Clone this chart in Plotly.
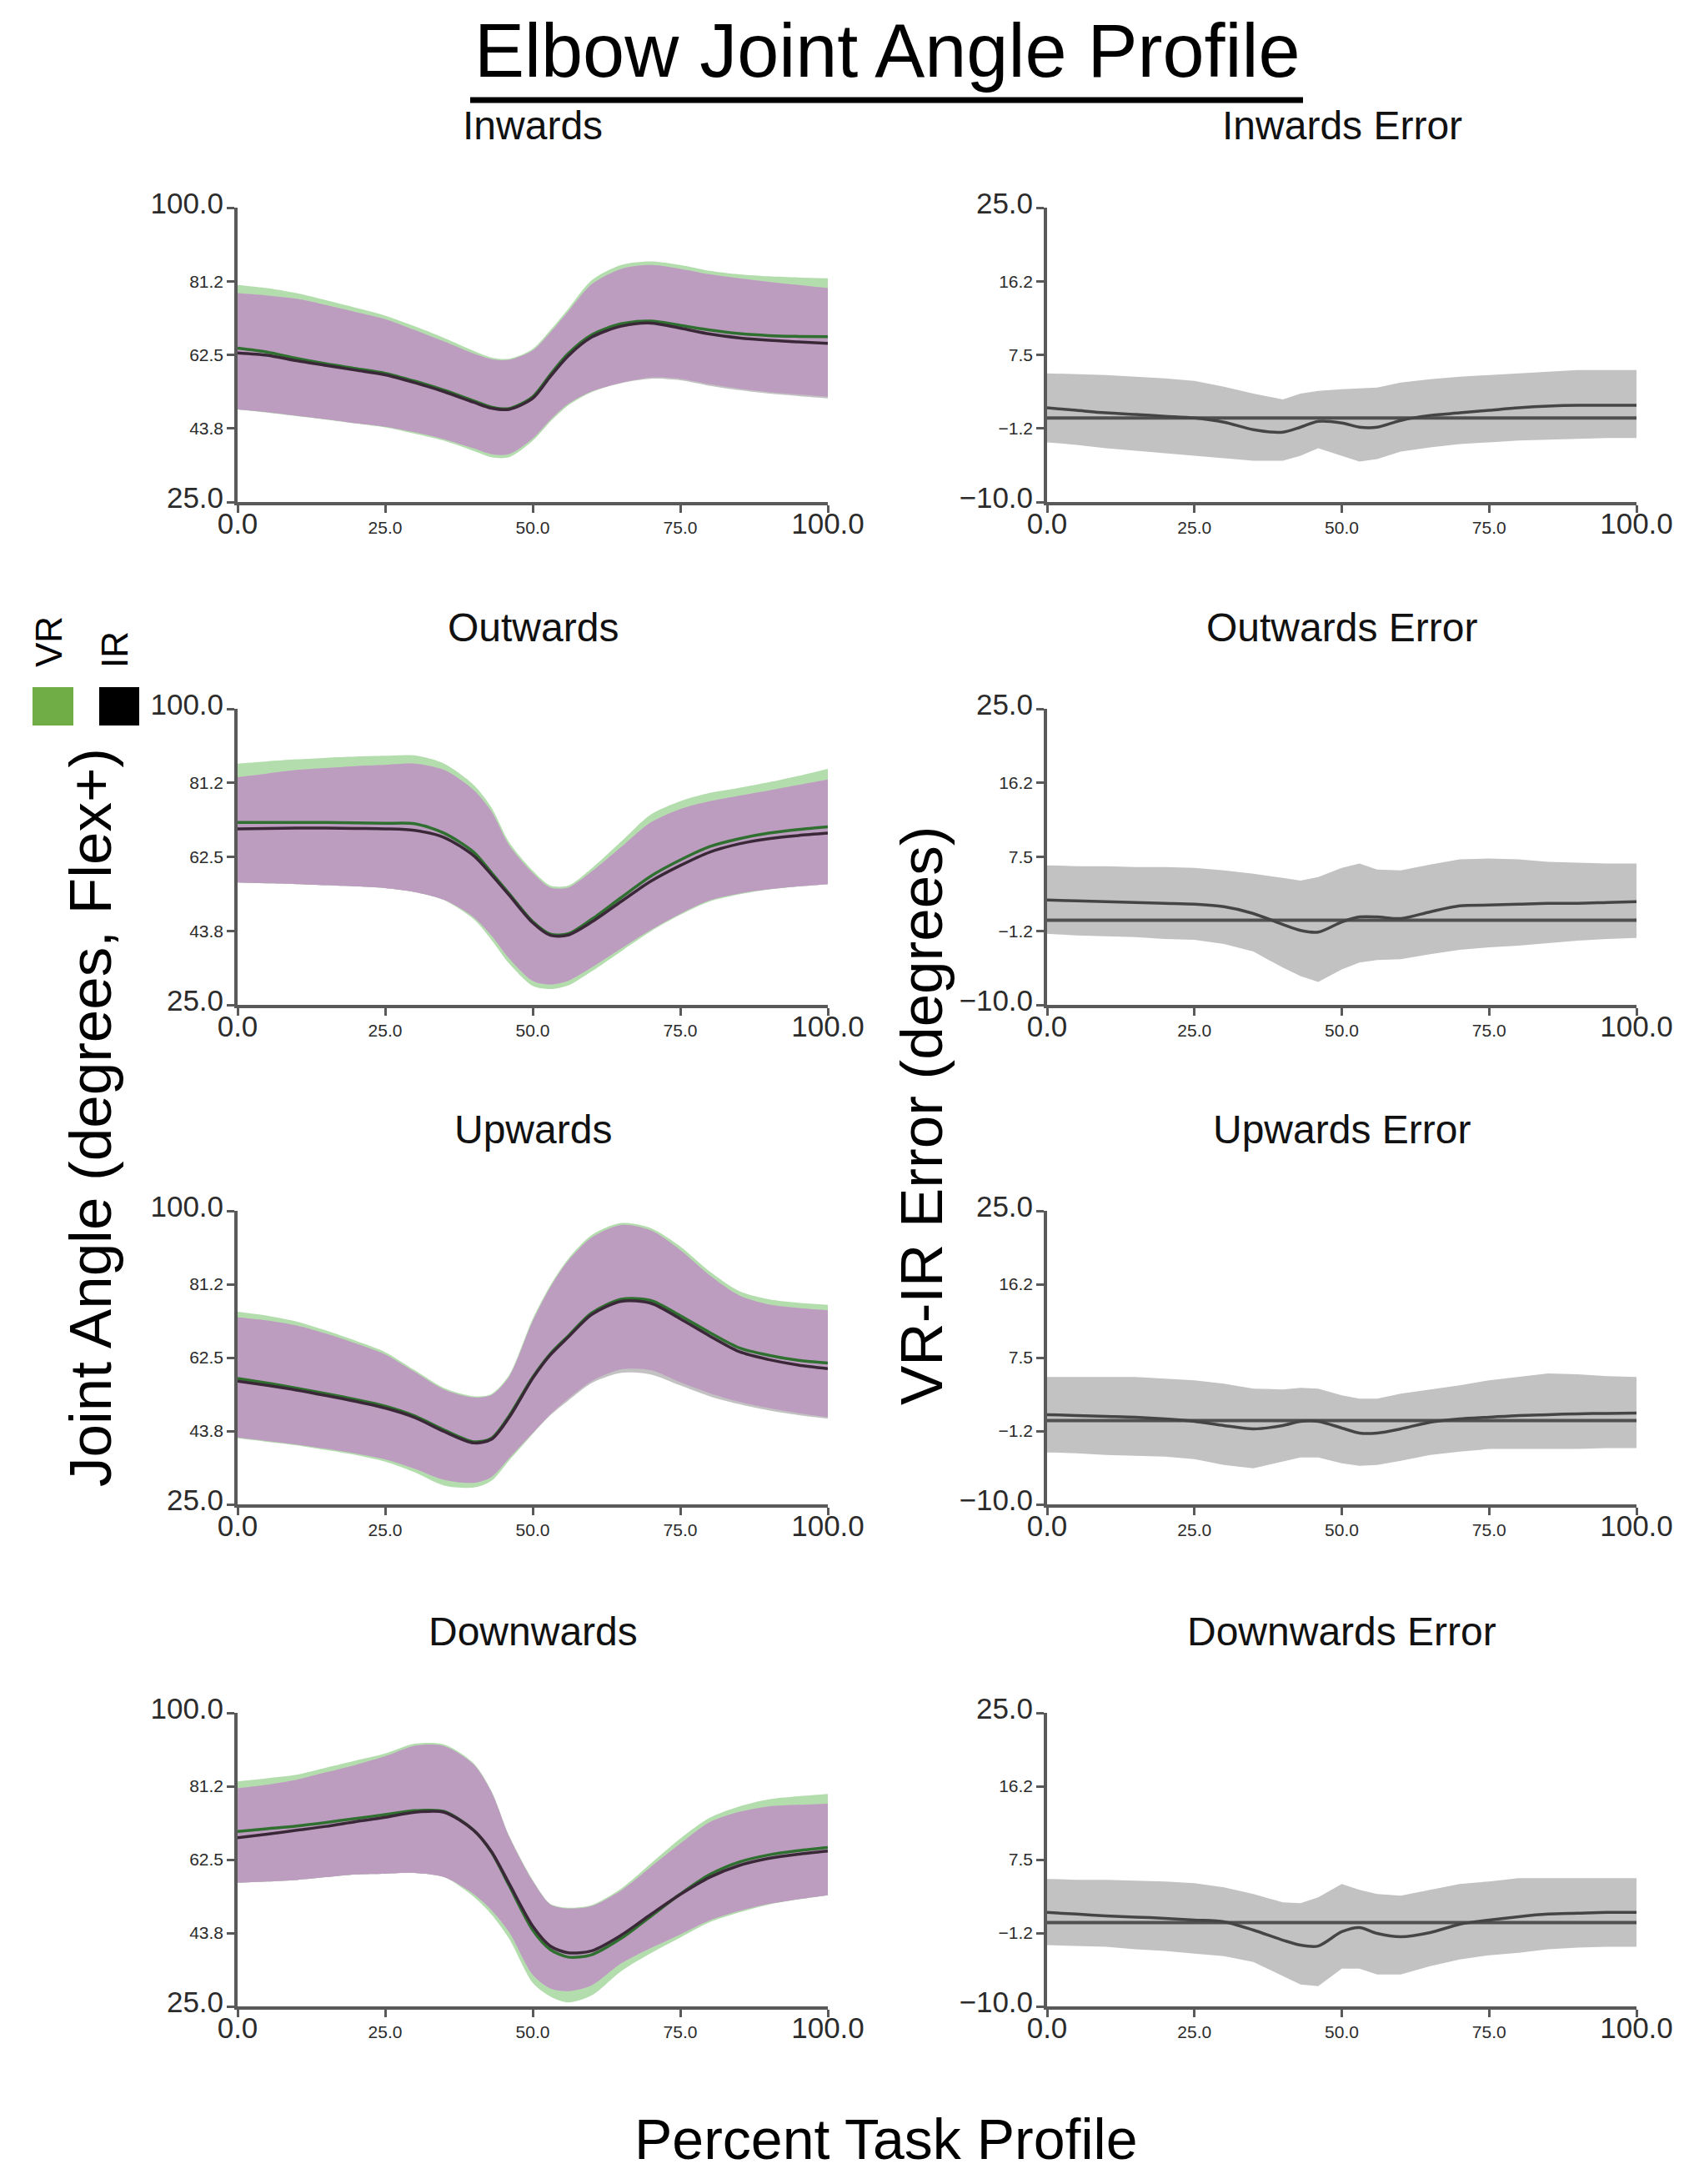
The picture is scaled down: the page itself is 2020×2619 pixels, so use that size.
import numpy as np
import plotly.graph_objects as go
from plotly.subplots import make_subplots

# percent of task (common grid for all series)
X = [0, 5, 10, 15, 20, 25, 30, 35, 40, 43, 46, 50, 53, 56, 60, 65, 70, 75, 80, 85, 90, 95, 100]

DIRECTIONS = ["Inwards", "Outwards", "Upwards", "Downwards"]

# joint angle (degrees) - VR / IR mean and band edges
in_vr_mean = [64.2, 63.2, 61.6, 60.2, 59.0, 57.8, 55.8, 53.5, 50.8, 49.2, 48.8, 51.8, 57.5, 62.8, 67.6, 70.4, 71.1, 70.0, 68.8, 67.9, 67.4, 67.2, 67.1]
in_ir_mean = [63.0, 62.4, 61.0, 59.8, 58.6, 57.4, 55.4, 53.1, 50.4, 48.9, 48.6, 51.4, 57.0, 62.2, 67.0, 69.8, 70.6, 69.3, 67.8, 66.8, 66.2, 65.8, 65.4]
in_vr_hi = [80.3, 79.5, 78.2, 76.4, 74.5, 72.5, 69.8, 66.8, 63.5, 61.8, 61.5, 64.0, 68.8, 74.2, 81.5, 85.4, 86.3, 85.4, 83.9, 83.0, 82.5, 82.2, 82.0]
in_ir_hi = [78.2, 77.6, 76.8, 75.2, 73.4, 71.6, 68.8, 65.9, 62.8, 61.4, 61.2, 63.6, 68.2, 73.5, 80.5, 84.4, 85.4, 84.4, 83.0, 82.0, 81.1, 80.3, 79.5]
in_vr_lo = [48.6, 47.8, 46.9, 46.0, 45.0, 44.0, 42.4, 40.6, 38.0, 36.4, 36.4, 40.6, 45.5, 49.6, 53.0, 55.4, 56.7, 56.4, 55.0, 53.9, 53.0, 52.4, 51.8]
in_ir_lo = [48.6, 47.9, 47.0, 46.1, 45.1, 44.2, 42.8, 41.0, 38.7, 37.2, 37.2, 41.2, 46.0, 50.0, 53.2, 55.3, 56.4, 56.0, 54.6, 53.5, 52.6, 52.0, 51.4]

out_vr_mean = [71.2, 71.2, 71.2, 71.2, 71.1, 71.0, 70.9, 68.5, 63.7, 58.5, 53.2, 46.1, 42.9, 43.0, 46.7, 52.2, 57.6, 61.7, 65.1, 67.1, 68.5, 69.4, 70.1]
out_ir_mean = [69.6, 69.7, 69.8, 69.8, 69.7, 69.6, 69.2, 67.4, 62.8, 58.0, 52.8, 45.8, 42.6, 42.7, 46.0, 51.2, 56.3, 60.3, 63.7, 65.8, 67.1, 67.9, 68.5]
out_vr_hi = [86.1, 86.7, 87.2, 87.6, 87.9, 88.1, 88.2, 86.1, 80.7, 75.0, 66.2, 59.0, 55.2, 55.2, 59.6, 66.4, 73.2, 76.6, 78.7, 80.0, 81.4, 83.0, 84.8]
out_ir_hi = [82.7, 83.6, 84.5, 85.0, 85.5, 85.8, 86.1, 84.5, 79.4, 74.0, 65.4, 58.4, 54.7, 54.7, 58.8, 65.0, 71.2, 74.6, 76.6, 78.0, 79.3, 80.7, 82.1]
out_vr_lo = [56.0, 55.8, 55.6, 55.3, 55.0, 54.6, 53.6, 51.5, 46.7, 41.5, 35.5, 29.8, 29.0, 29.9, 33.5, 38.6, 43.6, 47.8, 51.2, 53.0, 54.2, 55.0, 55.6]
out_ir_lo = [56.0, 55.8, 55.6, 55.3, 55.0, 54.6, 53.6, 51.6, 47.2, 42.6, 36.8, 31.1, 30.2, 31.1, 34.5, 39.3, 44.0, 48.1, 51.5, 53.2, 54.3, 55.0, 55.6]

up_vr_mean = [57.2, 56.0, 54.7, 53.3, 51.8, 50.1, 47.6, 44.0, 41.0, 41.9, 47.6, 57.5, 63.5, 68.0, 73.9, 77.4, 77.1, 73.2, 68.9, 65.0, 63.1, 61.8, 61.1]
up_ir_mean = [56.5, 55.4, 54.2, 52.8, 51.3, 49.6, 47.2, 43.6, 40.7, 41.6, 47.2, 57.2, 63.2, 67.7, 73.5, 76.9, 76.4, 72.4, 68.0, 64.0, 62.0, 60.6, 59.7]
up_vr_hi = [74.2, 73.2, 71.7, 69.4, 66.8, 63.9, 59.3, 54.7, 52.6, 53.2, 58.0, 72.4, 81.0, 87.7, 93.8, 96.9, 95.6, 90.9, 84.5, 79.5, 77.4, 76.5, 76.0]
up_ir_hi = [72.8, 72.0, 70.7, 68.6, 66.1, 63.3, 58.8, 54.3, 52.3, 52.9, 57.6, 71.8, 80.5, 87.2, 93.2, 96.4, 95.0, 90.0, 83.5, 78.4, 76.1, 75.2, 74.6]
up_vr_lo = [41.9, 41.0, 40.1, 38.9, 37.6, 35.9, 33.2, 29.8, 29.3, 31.0, 36.2, 43.0, 48.0, 52.0, 56.5, 59.5, 59.3, 56.2, 53.4, 51.2, 49.6, 48.3, 47.3]
up_ir_lo = [42.1, 41.2, 40.3, 39.2, 38.0, 36.5, 34.1, 31.3, 30.5, 32.0, 36.8, 43.2, 47.8, 51.5, 56.0, 58.6, 58.2, 55.4, 52.6, 50.6, 49.0, 47.8, 46.9]

down_vr_mean = [69.7, 70.4, 71.1, 72.0, 73.0, 74.0, 75.0, 74.8, 70.0, 64.4, 55.9, 44.5, 39.5, 37.6, 38.2, 42.4, 48.0, 53.7, 58.7, 61.9, 63.7, 64.8, 65.6]
down_ir_mean = [68.1, 69.0, 70.0, 71.0, 72.2, 73.3, 74.6, 74.6, 70.0, 64.6, 56.4, 45.5, 40.4, 38.7, 39.2, 43.2, 48.5, 53.6, 58.0, 61.0, 62.8, 63.9, 64.7]
down_vr_hi = [82.5, 83.3, 84.2, 86.0, 87.8, 89.6, 92.1, 91.9, 87.1, 80.0, 68.6, 57.3, 51.2, 50.2, 50.9, 55.1, 61.5, 67.9, 73.2, 76.1, 77.9, 78.7, 79.3]
down_ir_hi = [80.7, 81.6, 82.9, 84.8, 86.7, 88.9, 91.6, 91.5, 86.8, 79.8, 68.4, 57.0, 51.0, 50.0, 50.6, 54.6, 60.6, 66.6, 72.1, 74.7, 76.1, 76.5, 76.8]
down_vr_lo = [56.6, 56.9, 57.3, 58.0, 58.7, 58.9, 59.1, 58.0, 53.0, 48.5, 42.3, 31.0, 27.5, 26.0, 27.8, 34.0, 38.6, 42.6, 46.5, 49.0, 51.0, 52.3, 53.4]
down_ir_lo = [56.6, 56.9, 57.3, 58.0, 58.7, 58.9, 59.1, 58.0, 53.7, 49.6, 44.0, 33.1, 29.6, 28.9, 30.4, 36.0, 39.9, 43.4, 47.0, 49.4, 51.2, 52.4, 53.4]

# VR-IR error (degrees)
in_err_mean = [1.2, 0.9, 0.6, 0.4, 0.2, 0.0, -0.5, -1.4, -1.7, -1.1, -0.4, -0.6, -1.1, -1.1, -0.3, 0.3, 0.6, 0.9, 1.2, 1.4, 1.5, 1.5, 1.5]
in_err_hi = [5.3, 5.2, 5.1, 4.9, 4.7, 4.4, 3.7, 2.9, 2.2, 2.9, 3.2, 3.4, 3.5, 3.6, 4.2, 4.6, 4.9, 5.1, 5.3, 5.5, 5.7, 5.7, 5.7]
in_err_lo = [-2.9, -3.2, -3.6, -3.9, -4.2, -4.5, -4.8, -5.1, -5.1, -4.5, -3.6, -4.5, -5.2, -4.9, -4.0, -3.5, -3.1, -2.9, -2.7, -2.6, -2.5, -2.4, -2.4]

out_err_mean = [2.4, 2.3, 2.2, 2.1, 2.0, 1.9, 1.6, 0.8, -0.5, -1.2, -1.4, -0.2, 0.4, 0.4, 0.2, 1.0, 1.7, 1.8, 1.9, 2.0, 2.0, 2.1, 2.2]
out_err_hi = [6.5, 6.4, 6.4, 6.3, 6.3, 6.2, 5.9, 5.5, 5.0, 4.7, 5.1, 6.2, 6.7, 6.0, 5.9, 6.6, 7.2, 7.3, 7.2, 6.9, 6.8, 6.7, 6.7]
out_err_lo = [-1.6, -1.8, -1.9, -2.0, -2.2, -2.3, -2.8, -3.7, -5.6, -6.6, -7.3, -5.8, -5.0, -4.7, -4.6, -4.0, -3.5, -3.2, -3.0, -2.7, -2.4, -2.2, -2.1]

up_err_mean = [0.7, 0.6, 0.5, 0.4, 0.2, -0.1, -0.6, -1.0, -0.6, -0.1, -0.1, -0.9, -1.5, -1.5, -1.0, -0.2, 0.2, 0.4, 0.6, 0.7, 0.8, 0.85, 0.9]
up_err_hi = [5.2, 5.2, 5.2, 5.2, 5.0, 4.8, 4.4, 3.8, 3.7, 3.9, 3.8, 3.0, 2.6, 2.6, 3.2, 3.7, 4.2, 4.8, 5.2, 5.6, 5.5, 5.3, 5.2]
up_err_lo = [-3.8, -3.9, -4.1, -4.2, -4.3, -4.6, -5.3, -5.7, -4.9, -4.4, -4.4, -5.1, -5.4, -5.3, -4.8, -4.1, -3.7, -3.4, -3.4, -3.4, -3.4, -3.3, -3.3]

down_err_mean = [1.2, 1.0, 0.8, 0.65, 0.5, 0.3, 0.1, -0.9, -2.1, -2.7, -2.8, -1.1, -0.6, -1.3, -1.7, -1.2, -0.2, 0.3, 0.7, 1.0, 1.1, 1.2, 1.2]
down_err_hi = [5.2, 5.1, 5.1, 5.0, 4.9, 4.7, 4.2, 3.4, 2.4, 2.3, 3.0, 4.6, 3.9, 3.4, 3.2, 3.9, 4.6, 4.9, 5.3, 5.3, 5.3, 5.3, 5.3]
down_err_lo = [-2.7, -2.8, -2.9, -3.2, -3.4, -3.7, -4.0, -4.7, -6.4, -7.4, -7.6, -5.5, -5.5, -6.2, -6.2, -5.2, -4.4, -3.9, -3.6, -3.2, -3.0, -2.9, -2.9]

ERR_REF = 0.0

ANGLE_TICKS = [25.0, 43.75, 62.5, 81.25, 100.0]
ANGLE_LABELS = ["25.0", "43.8", "62.5", "81.2", "100.0"]
ERR_TICKS = [-10.0, -1.25, 7.5, 16.25, 25.0]
ERR_LABELS = ["\u221210.0", "\u22121.2", "7.5", "16.2", "25.0"]
X_TICKS = [0, 25, 50, 75, 100]
X_LABELS = ["0.0", "25.0", "50.0", "75.0", "100.0"]

angles = [
    (in_vr_mean, in_ir_mean, in_vr_hi, in_vr_lo, in_ir_hi, in_ir_lo),
    (out_vr_mean, out_ir_mean, out_vr_hi, out_vr_lo, out_ir_hi, out_ir_lo),
    (up_vr_mean, up_ir_mean, up_vr_hi, up_vr_lo, up_ir_hi, up_ir_lo),
    (down_vr_mean, down_ir_mean, down_vr_hi, down_vr_lo, down_ir_hi, down_ir_lo),
]
errors = [
    (in_err_mean, in_err_hi, in_err_lo),
    (out_err_mean, out_err_hi, out_err_lo),
    (up_err_mean, up_err_hi, up_err_lo),
    (down_err_mean, down_err_hi, down_err_lo),
]

W, H = 2020, 2619
FONT = "Liberation Sans, Arial, sans-serif"
AXIS_COLOR = "#595959"
GREEN_BAND = "#b4ddae"
GRAY_BAND = "#c2c2c2"
PURPLE_BAND = "#bd9dbf"
VR_LINE = "#2f6f2f"
IR_LINE = "#3a2838"

LEFT_X = (277, 985)
RIGHT_X = (1248, 1955)
ROWS_Y = [(241, 594), (842, 1197), (1444, 1796), (2046, 2398)]


def px_x(v):
    return v / W


def px_y(v):
    return 1 - v / H


def tick_text(labels):
    # first and last labels are drawn large, the middle ones small
    out = []
    for i, lab in enumerate(labels):
        if i == 0 or i == len(labels) - 1:
            out.append(f"<span style='font-size:35px'>{lab}</span>")
        else:
            out.append(lab)
    return out


def band(fig, lo, hi, color, row, col):
    fig.add_trace(
        go.Scatter(x=X, y=lo, mode="lines", line=dict(width=0, shape="spline", smoothing=0.8),
                   hoverinfo="skip", showlegend=False),
        row=row, col=col,
    )
    fig.add_trace(
        go.Scatter(x=X, y=hi, mode="lines", line=dict(width=0, shape="spline", smoothing=0.8),
                   fill="tonexty", fillcolor=color, hoverinfo="skip", showlegend=False),
        row=row, col=col,
    )


fig = make_subplots(rows=4, cols=2)

for i, (vr_mean, ir_mean, vr_hi, vr_lo, ir_hi, ir_lo) in enumerate(angles):
    row = i + 1
    band(fig, vr_lo, vr_hi, GREEN_BAND, row, 1)
    band(fig, ir_lo, ir_hi, GRAY_BAND, row, 1)
    ov_lo = np.maximum(vr_lo, ir_lo)
    ov_hi = np.minimum(vr_hi, ir_hi)
    band(fig, ov_lo, ov_hi, PURPLE_BAND, row, 1)
    fig.add_trace(
        go.Scatter(x=X, y=vr_mean, mode="lines", name="VR",
                   line=dict(color=VR_LINE, width=3.5, shape="spline", smoothing=0.8), showlegend=False),
        row=row, col=1,
    )
    fig.add_trace(
        go.Scatter(x=X, y=ir_mean, mode="lines", name="IR",
                   line=dict(color=IR_LINE, width=3.5, shape="spline", smoothing=0.8), showlegend=False),
        row=row, col=1,
    )

for i, (err_mean, err_hi, err_lo) in enumerate(errors):
    row = i + 1
    fig.add_trace(
        go.Scatter(x=X, y=err_lo, mode="lines", line=dict(width=0), hoverinfo="skip", showlegend=False),
        row=row, col=2,
    )
    fig.add_trace(
        go.Scatter(x=X, y=err_hi, mode="lines", line=dict(width=0), fill="tonexty",
                   fillcolor=GRAY_BAND, hoverinfo="skip", showlegend=False),
        row=row, col=2,
    )
    fig.add_trace(
        go.Scatter(x=[X[0], X[-1]], y=[ERR_REF, ERR_REF], mode="lines",
                   line=dict(color="#505050", width=4), showlegend=False),
        row=row, col=2,
    )
    fig.add_trace(
        go.Scatter(x=X, y=err_mean, mode="lines",
                   line=dict(color="#454545", width=3.5, shape="spline", smoothing=0.8), showlegend=False),
        row=row, col=2,
    )

axis_common = dict(
    showline=True, linecolor=AXIS_COLOR, linewidth=3.5, mirror=False,
    ticks="outside", ticklen=9, tickwidth=2.5, tickcolor=AXIS_COLOR,
    showgrid=False, zeroline=False, automargin=False,
    tickfont=dict(family=FONT, size=21, color="#2b2b2b"),
)

for i in range(4):
    row = i + 1
    y0, y1 = ROWS_Y[i]
    for col, (x0, x1) in ((1, LEFT_X), (2, RIGHT_X)):
        fig.update_xaxes(
            domain=[px_x(x0), px_x(x1)], range=[0, 100],
            tickvals=X_TICKS, ticktext=tick_text(X_LABELS),
            row=row, col=col, **axis_common,
        )
        if col == 1:
            fig.update_yaxes(range=[25, 100], tickvals=ANGLE_TICKS, ticktext=tick_text(ANGLE_LABELS),
                             domain=[px_y(y1), px_y(y0)], row=row, col=col, **axis_common)
        else:
            fig.update_yaxes(range=[-10, 25], tickvals=ERR_TICKS, ticktext=tick_text(ERR_LABELS),
                             domain=[px_y(y1), px_y(y0)], row=row, col=col, **axis_common)

annotations = []
for i, name in enumerate(DIRECTIONS):
    y0 = ROWS_Y[i][0]
    annotations.append(dict(text=name, x=px_x(sum(LEFT_X) / 2), y=px_y(y0 - 98),
                            xref="paper", yref="paper", showarrow=False,
                            xanchor="center", yanchor="middle",
                            font=dict(family=FONT, size=48, color="#111111")))
    annotations.append(dict(text=f"{name} Error", x=px_x(sum(RIGHT_X) / 2), y=px_y(y0 - 98),
                            xref="paper", yref="paper", showarrow=False,
                            xanchor="center", yanchor="middle",
                            font=dict(family=FONT, size=48, color="#111111")))

annotations += [
    dict(text="Elbow Joint Angle Profile", x=px_x(1056), y=px_y(53),
         xref="paper", yref="paper", showarrow=False, xanchor="center", yanchor="middle",
         font=dict(family=FONT, size=90, color="#000000")),
    dict(text="Percent Task Profile", x=px_x(1054), y=px_y(2557),
         xref="paper", yref="paper", showarrow=False, xanchor="center", yanchor="middle",
         font=dict(family=FONT, size=68, color="#000000")),
    dict(text="Joint Angle (degrees, Flex+)", x=px_x(100), y=px_y(1332), textangle=-90,
         xref="paper", yref="paper", showarrow=False, xanchor="center", yanchor="middle",
         font=dict(family=FONT, size=71, color="#000000")),
    dict(text="VR-IR Error (degrees)", x=px_x(1097), y=px_y(1330), textangle=-90,
         xref="paper", yref="paper", showarrow=False, xanchor="center", yanchor="middle",
         font=dict(family=FONT, size=71, color="#000000")),
    dict(text="VR", x=px_x(50), y=px_y(762), textangle=-90,
         xref="paper", yref="paper", showarrow=False, xanchor="center", yanchor="middle",
         font=dict(family=FONT, size=44, color="#000000")),
    dict(text="IR", x=px_x(129), y=px_y(771), textangle=-90,
         xref="paper", yref="paper", showarrow=False, xanchor="center", yanchor="middle",
         font=dict(family=FONT, size=44, color="#000000")),
]

shapes = [
    # title underline
    dict(type="line", xref="paper", yref="paper", x0=px_x(556), x1=px_x(1555), y0=px_y(112), y1=px_y(112),
         line=dict(color="#000000", width=7)),
    # legend swatches
    dict(type="rect", xref="paper", yref="paper", x0=px_x(31), x1=px_x(80), y0=px_y(862), y1=px_y(816),
         fillcolor="#70ad47", line=dict(width=0)),
    dict(type="rect", xref="paper", yref="paper", x0=px_x(111), x1=px_x(159), y0=px_y(862), y1=px_y(816),
         fillcolor="#000000", line=dict(width=0)),
]

fig.update_layout(
    template="none",
    width=W, height=H,
    margin=dict(l=0, r=0, t=0, b=0, autoexpand=False),
    paper_bgcolor="white", plot_bgcolor="white",
    showlegend=False,
    annotations=annotations,
    shapes=shapes,
    font=dict(family=FONT),
)

fig.write_html("out.html")
